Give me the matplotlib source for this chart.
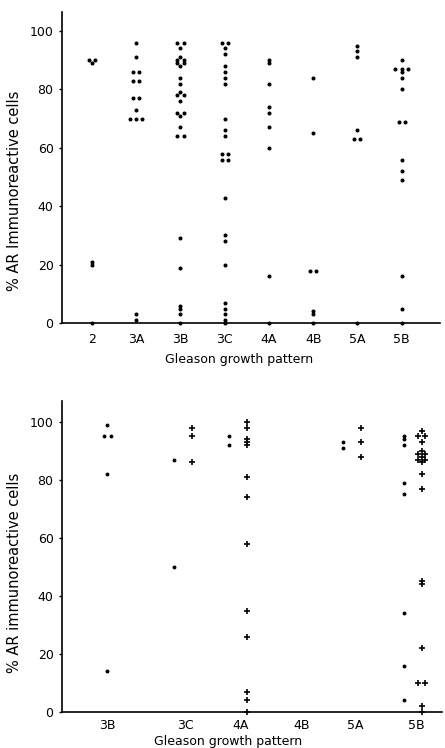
import matplotlib

matplotlib.use("Agg")
import matplotlib.pyplot as plt

plt.rcParams["font.family"] = ["DejaVu Sans"]

# upper panel: % AR immunoreactive cells per Gleason growth pattern
TOP_CATS = ["2", "3A", "3B", "3C", "4A", "4B", "5A", "5B"]
TOP_2 = [90, 90, 89, 21, 20, 0]
TOP_3A = [96, 91, 86, 86, 83, 83, 77, 77, 73, 70, 70, 70, 3, 1]
TOP_3B = [96, 96, 94, 91, 90, 90, 89, 89, 88, 84, 82, 79, 78, 78, 76,
          72, 72, 71, 67, 64, 64, 29, 19, 6, 5, 3, 0]
TOP_3C = [96, 96, 94, 92, 88, 86, 84, 82, 70, 66, 64, 58, 58, 56, 56,
          43, 30, 28, 20, 7, 5, 3, 1, 0]
TOP_4A = [90, 89, 82, 74, 72, 67, 60, 16, 0]
TOP_4B = [84, 65, 18, 18, 4, 3, 0]
TOP_5A = [95, 93, 91, 66, 63, 63, 0]
TOP_5B = [90, 87, 87, 87, 86, 84, 80, 69, 69, 56, 52, 49, 16, 5, 0]
TOP_VALUES = [TOP_2, TOP_3A, TOP_3B, TOP_3C, TOP_4A, TOP_4B, TOP_5A, TOP_5B]

# lower panel: two groups per pattern, drawn as dots and as crosses
BOT_CATS = ["3B", "3C", "4A", "4B", "5A", "5B"]
DOTS_3B = [99, 95, 95, 82, 14]
DOTS_3C = [87, 50]
DOTS_4A = [95, 92]
DOTS_4B = []
DOTS_5A = [93, 91]
DOTS_5B = [95, 94, 92, 79, 75, 34, 16, 4]
PLUS_3B = []
PLUS_3C = [98, 95, 86]
PLUS_4A = [100, 98, 94, 93, 92, 81, 74, 58, 35, 26, 7, 4, 0]
PLUS_4B = []
PLUS_5A = [98, 93, 88]
PLUS_5B = [97, 95, 95, 93, 90, 89, 89, 88, 87, 87, 86, 82, 77, 45, 44,
           22, 10, 10, 2, 0]
BOT_DOTS = [DOTS_3B, DOTS_3C, DOTS_4A, DOTS_4B, DOTS_5A, DOTS_5B]
BOT_PLUS = [PLUS_3B, PLUS_3C, PLUS_4A, PLUS_4B, PLUS_5A, PLUS_5B]

# hand-drawn axis: the lower categories are not evenly spaced
BOT_POS = [0, 1.36, 2.31, 3.36, 4.28, 5.33]


def spread(values, centre, step):
    """Put equal values side by side around the column centre."""
    xs = []
    for i, v in enumerate(values):
        same = [j for j, w in enumerate(values) if w == v]
        k = same.index(i)
        xs.append(centre + (k - (len(same) - 1) / 2) * step)
    return xs


def style_axis(ax, ylabel, ylabel_y, xlabel_xy, xpad):
    for side in ("top", "right"):
        ax.spines[side].set_visible(False)
    for side in ("left", "bottom"):
        ax.spines[side].set_linewidth(1.2)
    ax.set_yticks([0, 20, 40, 60, 80, 100])
    ax.tick_params(axis="y", length=2, width=1, pad=4, labelsize=9)
    ax.tick_params(axis="x", length=0, pad=xpad, labelsize=9)
    ax.set_ylabel(ylabel, fontsize=10.5)
    ax.yaxis.set_label_coords(-0.106, ylabel_y)
    ax.set_xlabel("Gleason growth pattern", fontsize=9)
    ax.xaxis.set_label_coords(*xlabel_xy)


fig = plt.figure(figsize=(4.45, 7.48), dpi=100)

ax0 = fig.add_axes([0.139, 0.568, 0.849, 0.416])
for i, vals in enumerate(TOP_VALUES):
    ax0.plot(spread(vals, i, 0.14), vals, "o", color="black",
             markersize=1.9, linestyle="none", clip_on=False)
ax0.set_xticks(range(len(TOP_CATS)))
ax0.set_xticklabels(TOP_CATS)
ax0.set_xlim(-0.68, 7.86)
ax0.set_ylim(0, 106.5)
style_axis(ax0, "% AR Immunoreactive cells", 0.424, (0.47, -0.095), 7)

ax1 = fig.add_axes([0.139, 0.048, 0.854, 0.416])
for pos, dots, plus in zip(BOT_POS, BOT_DOTS, BOT_PLUS):
    dot_x = pos - 0.2 if plus else pos
    ax1.plot(spread(dots, dot_x, 0.12), dots, "o", color="black",
             markersize=1.8, linestyle="none", clip_on=False)
    ax1.plot(spread(plus, pos + 0.1, 0.12), plus, "+", color="black",
             markersize=5, markeredgewidth=1.2, linestyle="none",
             clip_on=False)
ax1.set_xticks(BOT_POS)
ax1.set_xticklabels(BOT_CATS)
ax1.set_xlim(-0.78, 5.78)
ax1.set_ylim(0, 107.2)
style_axis(ax1, "% AR immunoreactive cells", 0.447, (0.437, -0.072), 5)

fig.savefig("out.png", dpi=100)
